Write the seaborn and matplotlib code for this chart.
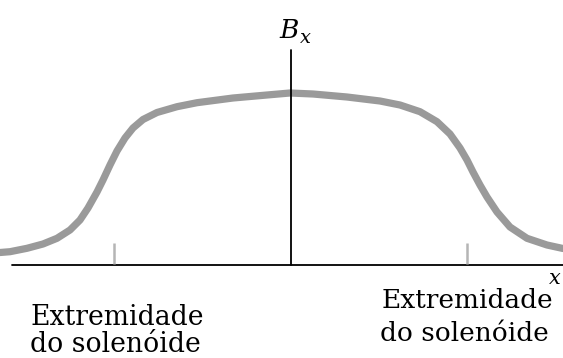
import matplotlib
matplotlib.use("Agg")
import matplotlib.pyplot as plt
import pandas as pd
import seaborn as sns

# curve (pixel-like coordinates, y grows downwards)
curve_x = [0, 10, 27, 43, 57, 70, 80, 88, 97, 103, 110, 117, 125, 133, 143, 157, 177, 197,
           233, 267, 290, 313, 347, 380, 400, 420, 437, 450, 460, 467, 473, 480, 487,
           497, 510, 527, 547, 563]
curve_b = [252.5, 251.7, 248.3, 244, 238.3, 230, 220, 208, 192, 180, 165, 151,
           138, 128, 119.5, 112.5, 106.7, 102.7, 98, 95, 93, 94, 97, 101, 105, 111.7, 121.7,
           134, 148, 160, 172, 185, 197, 212, 227, 238.3, 245, 248.5]

end_ticks = [114, 467]
end_label = ["Extremidade", "do solenóide"]

df = pd.DataFrame({"x": curve_x, "B": curve_b})

sns.set_style("white")
plt.rcParams["font.family"] = ["DejaVu Serif"]
plt.rcParams["mathtext.fontset"] = "dejavuserif"
plt.rcParams["text.color"] = "black"

fig = plt.figure(figsize=(5.63, 3.58), dpi=100)
ax = fig.add_axes([0, 0, 1, 1])

sns.lineplot(data=df, x="x", y="B", ax=ax, color="#9a9a9a", linewidth=5.2,
             solid_joinstyle="round", solid_capstyle="round")

# axes of the sketch
ax.plot([12, 563], [265, 265], color="black", linewidth=1.3)
ax.plot([291, 291], [50, 265], color="black", linewidth=1.3)
ax.vlines(end_ticks, 243, 264, color="#b5b5b5", linewidth=1.8)

ax.text(279, 38, "$B$", fontsize=19, ha="left", va="baseline")
ax.text(299, 43, "$x$", fontsize=14, ha="left", va="baseline")
ax.text(548, 284, "$x$", fontsize=15, ha="left", va="baseline")

ax.text(30, 325, end_label[0], fontsize=19.2, ha="left", va="baseline")
ax.text(30, 352, end_label[1], fontsize=19.2, ha="left", va="baseline")
ax.text(382, 308, end_label[0], fontsize=19, ha="left", va="baseline")
ax.text(380, 341, end_label[1], fontsize=19, ha="left", va="baseline")

ax.set_xlim(0, 563)
ax.set_ylim(358, 0)
ax.axis("off")

fig.savefig("out.png", dpi=100)
